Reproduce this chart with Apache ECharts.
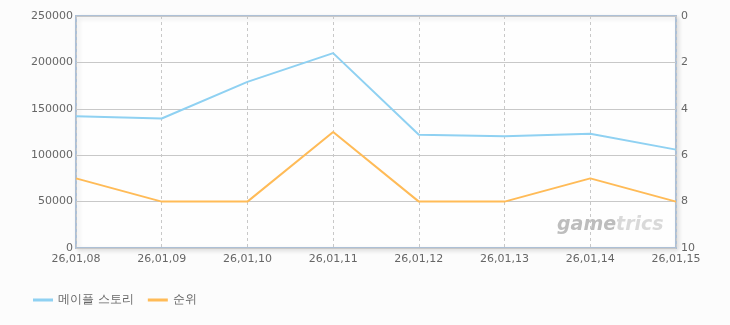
<!DOCTYPE html>
<html><head><meta charset="utf-8">
<script src="https://cdn.jsdelivr.net/npm/echarts@6/dist/echarts.min.js"></script>
<style>html,body{margin:0;padding:0;background:#fcfcfc;}#c{width:730px;height:325px;}</style>
</head><body><div id="c"></div>
<script>
const categories = ['26,01,08','26,01,09','26,01,10','26,01,11','26,01,12','26,01,13','26,01,14','26,01,15'];
const users = [142000, 139500, 179000, 210000, 122000, 120500, 123000, 106000];
const rank = [7, 8, 8, 5, 8, 8, 7, 8];
const leftTicks = [0, 50000, 100000, 150000, 200000, 250000];
const rightTicks = [0, 2, 4, 6, 8, 10];
const seriesNames = ['메이플 스토리', '순위'];

const chart = echarts.init(document.getElementById('c'));
const font = 'Dejavu Sans, sans-serif';
chart.setOption({
  backgroundColor: '#fcfcfc',
  animation: false,
  grid: {left: 76, right: 54, top: 16, bottom: 77, show: true, backgroundColor: '#fefefe', borderColor: '#adc0d6', borderWidth: 2,
    shadowColor: 'rgba(0,0,0,0.10)', shadowBlur: 4, shadowOffsetX: 2, shadowOffsetY: 2},
  legend: {left: 28, bottom: 14, itemWidth: 20, itemHeight: 3, itemGap: 14, icon: 'rect',
    textStyle: {color: '#666', fontSize: 12, fontFamily: font}, data: seriesNames},
  graphic: [{type: 'text', left: 557, top: 216, style: {
    text: '{a|game}{b|trics}',
    rich: {
      a: {fill: '#bdbdbd', font: 'italic bold 19px "DejaVu Sans", sans-serif'},
      b: {fill: '#d9d9d9', font: 'italic bold 19px "DejaVu Sans", sans-serif'}
    }}}],
  xAxis: {type: 'category', data: categories, boundaryGap: false,
    axisLine: {show: false}, axisTick: {show: false},
    axisLabel: {color: '#666', fontSize: 11, fontFamily: font, margin: 6, interval: 0},
    splitLine: {show: true, lineStyle: {color: '#c8c8c8', type: [3, 3]}}},
  yAxis: [
    {type: 'value', min: leftTicks[0], max: leftTicks[leftTicks.length-1], interval: 50000,
      axisLine: {show: false}, axisTick: {show: false},
      axisLabel: {color: '#666', fontSize: 11, fontFamily: font, margin: 3, formatter: v => String(v)},
      splitLine: {show: true, lineStyle: {color: '#c8c8c8'}}},
    {type: 'value', inverse: true, min: rightTicks[0], max: rightTicks[rightTicks.length-1], interval: 2,
      axisLine: {show: false}, axisTick: {show: false},
      axisLabel: {color: '#666', fontSize: 11, fontFamily: font, margin: 5},
      splitLine: {show: false}}
  ],
  series: [
    {name: seriesNames[0], type: 'line', data: users, yAxisIndex: 0, symbol: 'none',
      lineStyle: {color: '#8fd1f2', width: 2}, itemStyle: {color: '#8fd1f2'}},
    {name: seriesNames[1], type: 'line', data: rank, yAxisIndex: 1, symbol: 'none',
      lineStyle: {color: '#ffbb57', width: 2}, itemStyle: {color: '#ffbb57'}}
  ]
});
</script></body></html>
